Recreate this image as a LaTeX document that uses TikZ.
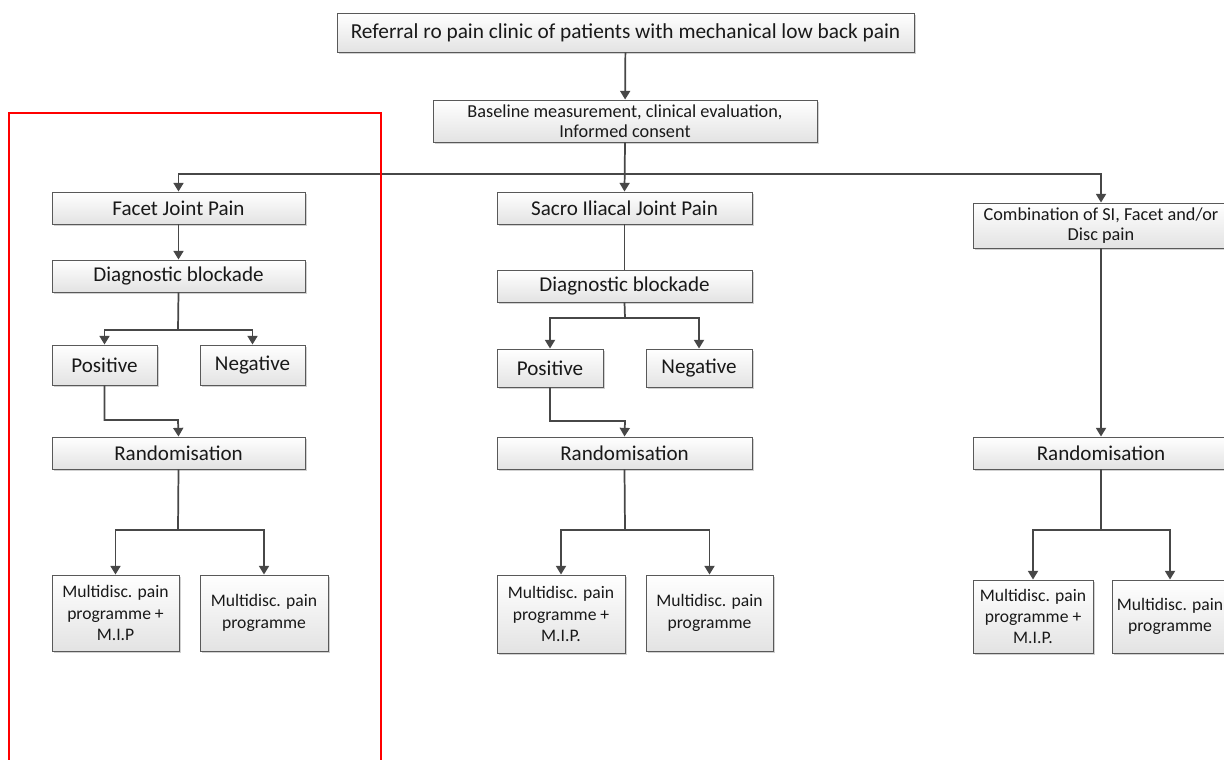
\documentclass[tikz,border=0pt]{standalone}
\usepackage{fontspec}
\setmainfont{Carlito}
\usetikzlibrary{arrows.meta,shadows}
\newcommand\bx[7]{%
  \node[box,font=#6,minimum width={(#4-#2)*0.75pt},minimum height={(#5-#3)*0.75pt}]
    (#1) at ({(#2+#4)/2},{(#3+#5)/2}) {#7};}
\begin{document}
\begin{tikzpicture}[x=0.75pt,y=-0.75pt,
  box/.style={draw=black!65,line width=0.7pt,top color=white,bottom color=black!11,
    inner sep=0pt,align=center,text=black!90,
    drop shadow={shadow xshift=1.5pt,shadow yshift=-1.5pt,opacity=0.3,fill=black!60}},
  conn/.style={draw=black!72,line width=1.3pt},
  arr/.style={conn,-{Triangle[width=7.5pt,length=6.5pt]}},
]
\useasboundingbox (0,0) rectangle (1224,760);
\begin{scope}
\clip (0,0) rectangle (1224,760);
\def\fA{\fontsize{16}{19}\selectfont}
\def\fB{\fontsize{13.7}{15}\selectfont}
\def\fC{\fontsize{15.8}{18}\selectfont}
\def\fD{\fontsize{13.2}{16}\selectfont}
% top
\bx{top}{337}{13}{914}{52}{\fA}{Referral ro pain clinic of patients with mechanical low back pain}
\bx{base}{433}{100}{817}{142}{\fB}{Baseline measurement, clinical evaluation,\\Informed consent}
% left column
\bx{facet}{52}{192}{305}{224}{\fC}{Facet Joint Pain}
\bx{diagA}{52}{260}{305}{292}{\fC}{Diagnostic blockade}
\bx{posA}{52}{345}{157}{385}{\fC}{Positive}
\bx{negA}{200}{345}{305}{385}{\fC}{Negative}
\bx{randA}{52}{437}{305}{469}{\fC}{Randomisation}
\bx{mA1}{52}{575}{179}{651}{\fD}{Multidisc. pain\\programme +\\M.I.P}
\bx{mA2}{200}{575}{328}{651}{\fD}{Multidisc. pain\\programme}
% middle column
\bx{si}{497}{192}{752}{224}{\fC}{Sacro Iliacal Joint Pain}
\bx{diagB}{497}{270}{752}{302}{\fC}{Diagnostic blockade}
\bx{posB}{497}{349}{603}{387}{\fC}{Positive}
\bx{negB}{646}{349}{752}{387}{\fC}{Negative}
\bx{randB}{497}{437}{752}{469}{\fC}{Randomisation}
\bx{mB1}{497}{575}{625}{653}{\fD}{Multidisc. pain\\programme +\\M.I.P.}
\bx{mB2}{646}{575}{773}{651}{\fD}{Multidisc. pain\\programme}
% right column
\bx{comb}{973}{203}{1229}{248}{\fB}{Combination of SI, Facet and/or\\Disc pain}
\bx{randC}{973}{437}{1229}{469}{\fC}{Randomisation}
\bx{mC1}{973}{580}{1093}{653}{\fD}{Multidisc. pain\\programme +\\M.I.P.}
\bx{mC2}{1112}{580}{1228}{653}{\fD}{Multidisc. pain\\programme}
% junctions
\coordinate (j0) at (625,174);
\coordinate (fA) at (178,330);
\coordinate (gA) at (178,420);
\coordinate (hA) at (178,530);
\coordinate (fB) at (625,318);
\coordinate (gB) at (625,421);
\coordinate (hB) at (625,530);
\coordinate (hC) at (1101,530);
% connectors
\draw[arr] (top) -- (base);
\draw[arr] (base.south) -- (si.north);
\draw[arr] (j0) -| (facet.north);
\draw[arr] (j0) -| (comb.north);
\draw[arr] (facet) -- (diagA);
\draw[conn] (diagA.south) -- (fA);
\draw[arr] (fA) -| (posA.north);
\draw[arr] (fA) -| (negA.north);
\draw[arr] (posA.south) |- (gA) -- (randA.north);
\draw[conn] (randA.south) -- (hA);
\draw[arr] (hA) -| (mA1.north);
\draw[arr] (hA) -| (mA2.north);
\draw[conn] (si) -- (diagB);
\draw[conn] (diagB.south) -- (fB);
\draw[arr] (fB) -| (posB.north);
\draw[arr] (fB) -| (negB.north);
\draw[arr] (posB.south) |- (gB) -- (randB.north);
\draw[conn] (randB.south) -- (hB);
\draw[arr] (hB) -| (mB1.north);
\draw[arr] (hB) -| (mB2.north);
\draw[arr] (comb) -- (randC);
\draw[conn] (randC.south) -- (hC);
\draw[arr] (hC) -| (mC1.north);
\draw[arr] (hC) -| (mC2.north);
% red frame
\coordinate (rA) at (9,770);
\coordinate (rB) at (9,113);
\coordinate (rC) at (381,113);
\coordinate (rD) at (381,770);
\draw[red,line width=1.6pt] (rA) -- (rB) -- (rC) -- (rD);
\end{scope}
\end{tikzpicture}
\end{document}
